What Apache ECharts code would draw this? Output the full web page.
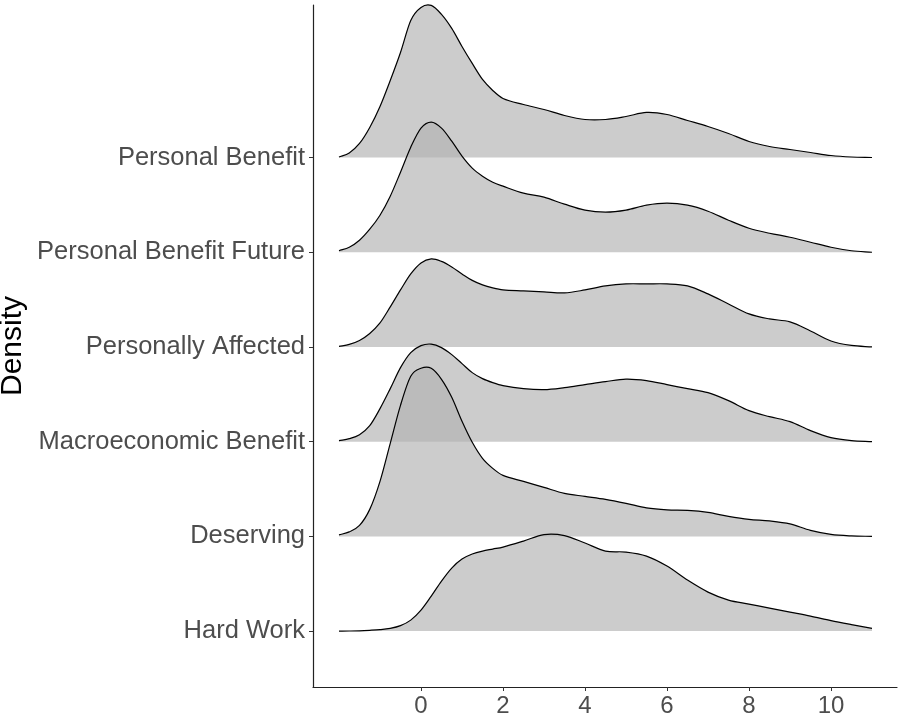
<!DOCTYPE html>
<html>
<head>
<meta charset="utf-8">
<script src="https://cdn.jsdelivr.net/npm/echarts@6/dist/echarts.min.js"></script>
<style>
html,body{margin:0;padding:0;background:#fff;}
#chart{width:898px;height:718px;}
</style>
</head>
<body>
<div id="chart"></div>
<script>
// Categories, bottom (1) to top (6)
const categories = ['Hard Work', 'Deserving', 'Macroeconomic Benefit', 'Personally Affected', 'Personal Benefit Future', 'Personal Benefit'];
const xTicks = [0, 2, 4, 6, 8, 10];
const yTitle = 'Density';
const xGrid = [-2,-1.75,-1.5,-1.25,-1,-0.75,-0.5,-0.25,0,0.25,0.5,0.75,1,1.25,1.5,1.75,2,
               2.5,3,3.5,4,4.5,5,5.5,6,6.5,7,7.5,8,8.5,9,9.5,10,10.5,11];

// ridge heights (density, scaled)
const personalBenefit = [0.005,0.045,0.14,0.30,0.51,0.77,1.05,1.37,1.50,1.52,1.43,1.29,1.11,0.94,0.78,0.67,0.59,
                         0.53,0.48,0.42,0.38,0.38,0.41,0.45,0.43,0.37,0.31,0.24,0.16,0.11,0.08,0.05,0.02,0.005,0];
const personalBenefitFuture = [0.015,0.05,0.12,0.23,0.37,0.56,0.80,1.05,1.24,1.30,1.24,1.11,0.96,0.84,0.76,0.70,0.66,
                               0.59,0.55,0.48,0.42,0.40,0.42,0.47,0.49,0.47,0.41,0.32,0.24,0.19,0.15,0.10,0.05,0.015,0];
const personallyAffected = [0.005,0.025,0.065,0.135,0.24,0.40,0.57,0.73,0.84,0.88,0.855,0.80,0.73,0.665,0.62,0.59,0.57,
                            0.56,0.55,0.54,0.57,0.61,0.63,0.63,0.63,0.61,0.53,0.43,0.33,0.28,0.25,0.16,0.06,0.015,0];
const macroeconomicBenefit = [0.01,0.03,0.07,0.16,0.33,0.53,0.74,0.89,0.96,0.975,0.94,0.87,0.78,0.69,0.63,0.59,0.56,
                              0.53,0.52,0.54,0.57,0.60,0.625,0.61,0.57,0.53,0.49,0.41,0.31,0.25,0.20,0.11,0.04,0.01,0];
const deserving = [0.015,0.045,0.11,0.27,0.55,0.93,1.31,1.60,1.68,1.68,1.57,1.39,1.15,0.94,0.78,0.68,0.61,
                   0.55,0.49,0.43,0.40,0.37,0.33,0.285,0.265,0.26,0.24,0.20,0.17,0.155,0.125,0.06,0.02,0.005,0];
const hardWork = [0,0.001,0.003,0.008,0.015,0.028,0.055,0.11,0.21,0.35,0.50,0.63,0.72,0.77,0.80,0.82,0.84,
                  0.90,0.965,0.955,0.88,0.80,0.79,0.75,0.65,0.51,0.39,0.31,0.27,0.23,0.19,0.15,0.105,0.065,0.027];

const ridgeValues = [hardWork, deserving, macroeconomicBenefit, personallyAffected, personalBenefitFuture, personalBenefit];
const heightScale = 100 / 94.66;

// one item per ridge, top ridge first so lower ridges are drawn over it
const ridgeItems = [];
for (let k = categories.length; k >= 1; k--) ridgeItems.push([xGrid[0], k]);

function renderRidge(params, api) {
  const k = api.value(1);
  const vals = ridgeValues[k - 1];
  const pts = xGrid.map((x, j) => api.coord([x, k + vals[j] * heightScale]));
  const n = pts.length;
  const m = pts.map((p, i) => {
    const a = pts[Math.max(i - 1, 0)], b = pts[Math.min(i + 1, n - 1)];
    return (b[1] - a[1]) / (b[0] - a[0]);
  });
  let curve = '';
  for (let i = 0; i < n - 1; i++) {
    const h = pts[i + 1][0] - pts[i][0];
    curve += ' C ' + (pts[i][0] + h / 3) + ' ' + (pts[i][1] + m[i] * h / 3) + ' ' +
             (pts[i + 1][0] - h / 3) + ' ' + (pts[i + 1][1] - m[i + 1] * h / 3) + ' ' +
             pts[i + 1][0] + ' ' + pts[i + 1][1];
  }
  const b0 = api.coord([xGrid[0], k]);
  const b1 = api.coord([xGrid[n - 1], k]);
  const fillPath = 'M ' + b0[0] + ' ' + b0[1] + ' L ' + pts[0][0] + ' ' + pts[0][1] + curve +
                   ' L ' + b1[0] + ' ' + b1[1] + ' Z';
  const linePath = 'M ' + pts[0][0] + ' ' + pts[0][1] + curve;
  return {
    type: 'group',
    children: [
      { type: 'path', shape: { pathData: fillPath }, style: { fill: 'rgba(179,179,179,0.67)', stroke: null } },
      { type: 'path', shape: { pathData: linePath }, style: { fill: null, stroke: '#000', lineWidth: 1.2 } }
    ]
  };
}

const chart = echarts.init(document.getElementById('chart'), null, { renderer: 'canvas' });
chart.setOption({
  animation: false,
  backgroundColor: '#fff',
  grid: { left: 313, right: 1, top: 5, bottom: 31, containLabel: false, outerBoundsMode: 'none' },
  graphic: [{
    type: 'text',
    x: 28,
    y: 346,
    rotation: Math.PI / 2,
    silent: true,
    style: {
      text: yTitle,
      fill: '#000',
      font: '30px "Liberation Sans", Arial, sans-serif',
      textAlign: 'center',
      textVerticalAlign: 'bottom'
    }
  }],
  xAxis: {
    type: 'value',
    min: -2.634,
    max: 11.61,
    axisLine: { show: true, onZero: false, lineStyle: { color: '#222', width: 1.2 } },
    axisTick: { show: true, customValues: xTicks, length: 4, lineStyle: { color: '#333' } },
    axisLabel: { customValues: xTicks, color: '#4D4D4D', fontSize: 24, fontFamily: 'Liberation Sans, Arial, sans-serif', margin: 7 },
    splitLine: { show: false }
  },
  yAxis: {
    type: 'value',
    min: 0.41,
    max: 7.61,
    axisLine: { show: true, onZero: false, lineStyle: { color: '#222', width: 1.2 } },
    axisTick: { show: true, customValues: [1,2,3,4,5,6], length: 4, lineStyle: { color: '#333' } },
    axisLabel: {
      customValues: [1,2,3,4,5,6],
      color: '#4D4D4D', fontSize: 25.5, fontFamily: 'Liberation Sans, Arial, sans-serif', margin: 8,
      formatter: v => categories[Math.round(v) - 1] || ''
    },
    splitLine: { show: false }
  },
  series: [{
    type: 'custom',
    silent: true,
    coordinateSystem: 'cartesian2d',
    encode: { x: 0, y: 1 },
    data: ridgeItems,
    renderItem: renderRidge
  }]
});
</script>
</body>
</html>
